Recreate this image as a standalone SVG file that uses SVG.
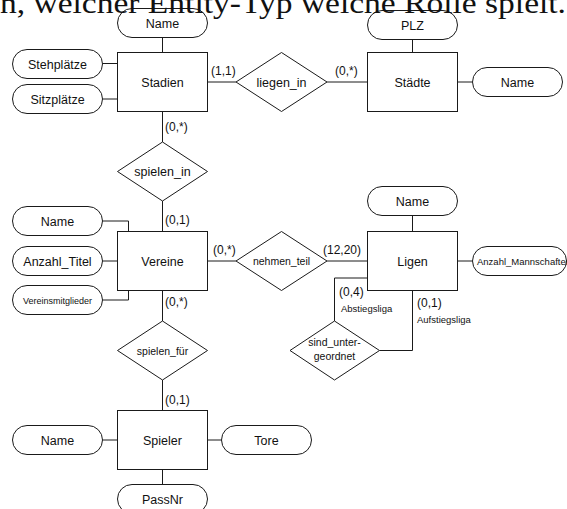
<svg xmlns="http://www.w3.org/2000/svg" width="567" height="509" viewBox="0 0 567 509">
<style>
.e{fill:#fff;stroke:#1a1a1a;stroke-width:1}
.a{fill:#fff;stroke:#1a1a1a;stroke-width:1}
.r{fill:#fff;stroke:#1a1a1a;stroke-width:1}
.c{fill:none;stroke:#1a1a1a;stroke-width:1}
text{font-family:"Liberation Sans",Arial,sans-serif;fill:#111}
.t{font-size:12.5px;text-anchor:middle}
.s{font-size:10.5px;text-anchor:middle}
.k{font-size:12px}
.x{font-size:9.5px}
.head{font-family:"Liberation Serif","Times New Roman",serif;font-size:30px;fill:#111}
</style>
<rect width="567" height="509" fill="#fff"/>

<g id="connectors">
<path class="c" d="M162.5 37.5V52.5"/>
<path class="c" d="M102.5 63.5H117.5"/>
<path class="c" d="M102.5 99H117.5"/>
<path class="c" d="M207.5 82H236"/>
<path class="c" d="M327 82H367.5"/>
<path class="c" d="M412.5 39.5V52.5"/>
<path class="c" d="M457.5 82H472.5"/>
<path class="c" d="M162.5 111.5V142"/>
<path class="c" d="M162.5 201V231.5"/>
<path class="c" d="M102.5 221H128.5V231.5"/>
<path class="c" d="M102.5 261H117.5"/>
<path class="c" d="M102.5 300H128.5V290.5"/>
<path class="c" d="M207.5 261H236"/>
<path class="c" d="M327 261H367.5"/>
<path class="c" d="M412.5 215.5V231.5"/>
<path class="c" d="M457.5 261H472.5"/>
<path class="c" d="M367.5 278H334.5V321"/>
<path class="c" d="M412.5 290.5V350.5H379.5"/>
<path class="c" d="M162.5 290.5V321"/>
<path class="c" d="M162.5 380V410.5"/>
<path class="c" d="M102.5 440H117.5"/>
<path class="c" d="M207.5 440H221.5"/>
<path class="c" d="M162.5 469.5V484.5"/>
</g>

<g id="cardinalities">
<text class="k" x="211" y="75">(1,1)</text>
<text class="k" x="335" y="75">(0,*)</text>
<text class="k" x="165" y="131">(0,*)</text>
<text class="k" x="165" y="224">(0,1)</text>
<text class="k" x="213" y="254">(0,*)</text>
<text class="k" x="323" y="254">(12,20)</text>
<text class="k" x="165" y="306">(0,*)</text>
<text class="k" x="339" y="296">(0,4)</text>
<text class="x" x="341" y="312">Abstiegsliga</text>
<text class="k" x="417" y="307">(0,1)</text>
<text class="x" x="417" y="323">Aufstiegsliga</text>
<text class="k" x="165" y="404">(0,1)</text>
</g>

<g id="Stadien"><rect class="e" x="117.5" y="52.5" width="90" height="59"/><text class="t" x="162.5" y="86.5">Stadien</text></g>
<g id="Stadien_Name"><rect class="a" x="117.5" y="8.5" width="90" height="29" rx="14.5"/><text class="t" x="162.5" y="27.5">Name</text></g>
<g id="Stehplaetze"><rect class="a" x="12.5" y="49.5" width="90" height="29" rx="14.5"/><text class="t" x="57.5" y="68.5">Stehplätze</text></g>
<g id="Sitzplaetze"><rect class="a" x="12.5" y="84.5" width="90" height="29" rx="14.5"/><text class="t" x="57.5" y="103.5">Sitzplätze</text></g>

<g id="liegen_in"><polygon class="r" points="236,82 281.5,52.5 327,82 281.5,111.5"/><text class="t" x="281.5" y="86.5">liegen_in</text></g>

<g id="Staedte"><rect class="e" x="367.5" y="52.5" width="90" height="59"/><text class="t" x="412.5" y="86.5">Städte</text></g>
<g id="PLZ"><rect class="a" x="367.5" y="10.5" width="90" height="29" rx="14.5"/><text class="t" x="412.5" y="29.5">PLZ</text></g>
<g id="Staedte_Name"><rect class="a" x="472.5" y="67.5" width="90" height="29" rx="14.5"/><text class="t" x="517.5" y="86.5">Name</text></g>

<g id="spielen_in"><polygon class="r" points="117.5,171.5 162.5,142 207.5,171.5 162.5,201"/><text class="t" x="162.5" y="176">spielen_in</text></g>

<g id="Vereine"><rect class="e" x="117.5" y="231.5" width="90" height="59"/><text class="t" x="162.5" y="265.5">Vereine</text></g>
<g id="Vereine_Name"><rect class="a" x="12.5" y="206.5" width="90" height="29" rx="14.5"/><text class="t" x="57.5" y="225.5">Name</text></g>
<g id="Anzahl_Titel"><rect class="a" x="12.5" y="246.5" width="90" height="29" rx="14.5"/><text class="t" x="57.5" y="265.5">Anzahl_Titel</text></g>
<g id="Vereinsmitglieder"><rect class="a" x="12.5" y="285.5" width="90" height="29" rx="14.5"/><text class="t" x="57.5" y="303.5" style="font-size:9px">Vereinsmitglieder</text></g>

<g id="nehmen_teil"><polygon class="r" points="236,261 281.5,231.5 327,261 281.5,290.5"/><text class="s" x="281.5" y="265">nehmen_teil</text></g>

<g id="Ligen"><rect class="e" x="367.5" y="231.5" width="90" height="59"/><text class="t" x="412.5" y="265.5">Ligen</text></g>
<g id="Ligen_Name"><rect class="a" x="367.5" y="186.5" width="90" height="29" rx="14.5"/><text class="t" x="412.5" y="205.5">Name</text></g>
<g id="Anzahl_Mannschaften"><rect class="a" x="472.5" y="246.5" width="94" height="29" rx="14.5"/><text x="477" y="264.5" style="font-size:9.5px">Anzahl_Mannschaften</text></g>

<g id="sind_untergeordnet"><polygon class="r" points="290,350.5 334.5,321 379.5,350.5 334.5,380"/><text class="s" x="334.5" y="346">sind_unter-</text><text class="s" x="334.5" y="360">geordnet</text></g>

<g id="spielen_fuer"><polygon class="r" points="117.5,350.5 162.5,321 207.5,350.5 162.5,380"/><text class="s" x="162.5" y="354.5">spielen_für</text></g>

<g id="Spieler"><rect class="e" x="117.5" y="410.5" width="90" height="59"/><text class="t" x="162.5" y="444.5">Spieler</text></g>
<g id="Spieler_Name"><rect class="a" x="12.5" y="425.5" width="90" height="29" rx="14.5"/><text class="t" x="57.5" y="444.5">Name</text></g>
<g id="Tore"><rect class="a" x="221.5" y="425.5" width="90" height="29" rx="14.5"/><text class="t" x="266.5" y="444.5">Tore</text></g>
<g id="PassNr"><rect class="a" x="117.5" y="484.5" width="90" height="29" rx="14.5"/><text class="t" x="162.5" y="503.5">PassNr</text></g>

<text class="head" x="0" y="12.5" textLength="566" lengthAdjust="spacingAndGlyphs">n, welcher Entity-Typ welche Rolle spielt.</text>
</svg>
